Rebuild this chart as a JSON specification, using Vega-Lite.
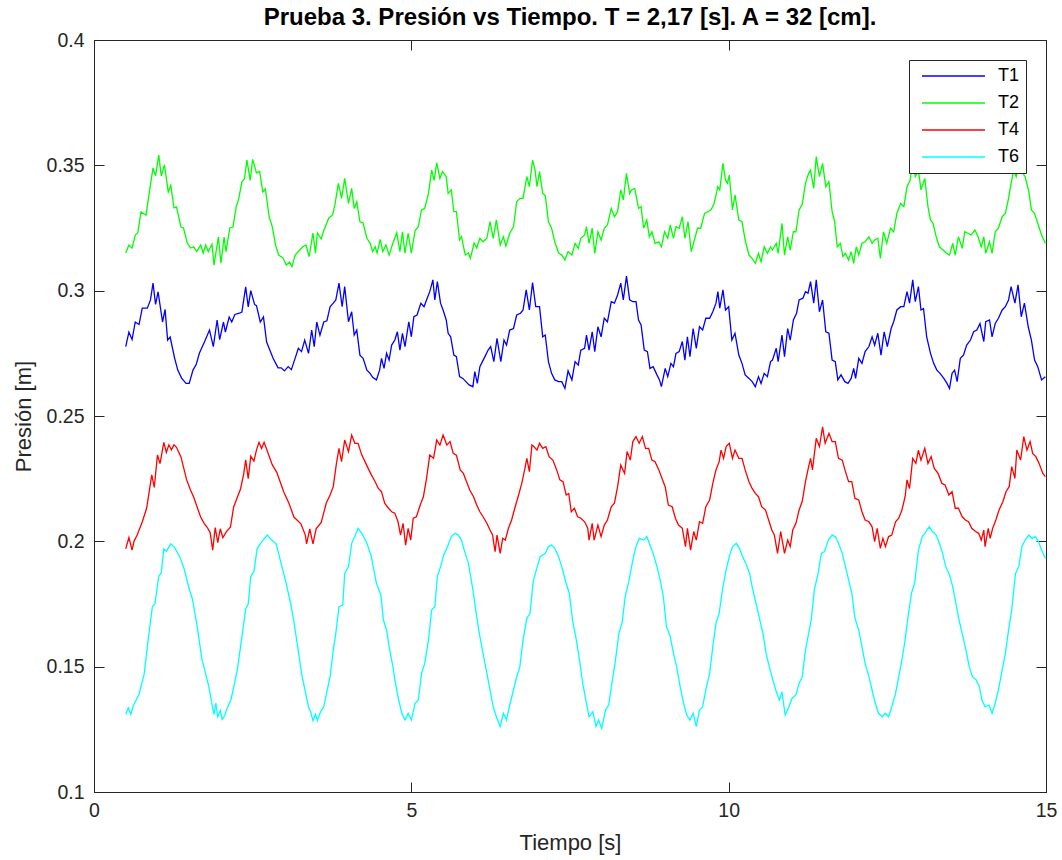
{
"$schema": "https://vega.github.io/schema/vega-lite/v6.json",
"width": 952, "height": 752,
"autosize": {"type": "none"},
"padding": {"left": 94, "top": 40, "right": 16, "bottom": 68},
"background": "white",
"config": {"view": {"stroke": "#262626", "strokeWidth": 1}, "font": "Liberation Sans"},
"title": {"text": "Prueba 3. Presión vs Tiempo. T = 2,17 [s]. A = 32 [cm].", "font": "Liberation Sans", "fontSize": 24, "fontWeight": "bold", "color": "black", "offset": 0, "anchor": "middle"},
"data": {"values": [
{"s":"T1","t":0.5,"p":0.2777},{"s":"T1","t":0.55,"p":0.2835},{"s":"T1","t":0.6,"p":0.2805},{"s":"T1","t":0.65,"p":0.2875},{"s":"T1","t":0.71,"p":0.2865},{"s":"T1","t":0.76,"p":0.293},{"s":"T1","t":0.84,"p":0.293},{"s":"T1","t":0.89,"p":0.2963},{"s":"T1","t":0.93,"p":0.303},{"s":"T1","t":0.97,"p":0.2945},{"s":"T1","t":1.01,"p":0.2995},{"s":"T1","t":1.08,"p":0.2875},{"s":"T1","t":1.12,"p":0.2925},{"s":"T1","t":1.16,"p":0.2803},{"s":"T1","t":1.2,"p":0.2815},{"s":"T1","t":1.27,"p":0.2731},{"s":"T1","t":1.32,"p":0.2683},{"s":"T1","t":1.38,"p":0.2651},{"s":"T1","t":1.45,"p":0.263},{"s":"T1","t":1.5,"p":0.263},{"s":"T1","t":1.56,"p":0.2683},{"s":"T1","t":1.61,"p":0.2705},{"s":"T1","t":1.66,"p":0.275},{"s":"T1","t":1.74,"p":0.2795},{"s":"T1","t":1.82,"p":0.2843},{"s":"T1","t":1.88,"p":0.2777},{"s":"T1","t":1.94,"p":0.2883},{"s":"T1","t":1.98,"p":0.2805},{"s":"T1","t":2.04,"p":0.2875},{"s":"T1","t":2.07,"p":0.2835},{"s":"T1","t":2.13,"p":0.2895},{"s":"T1","t":2.17,"p":0.2875},{"s":"T1","t":2.22,"p":0.2905},{"s":"T1","t":2.29,"p":0.291},{"s":"T1","t":2.33,"p":0.2915},{"s":"T1","t":2.39,"p":0.3015},{"s":"T1","t":2.43,"p":0.2935},{"s":"T1","t":2.47,"p":0.3},{"s":"T1","t":2.53,"p":0.2945},{"s":"T1","t":2.56,"p":0.294},{"s":"T1","t":2.62,"p":0.2875},{"s":"T1","t":2.67,"p":0.2895},{"s":"T1","t":2.72,"p":0.2795},{"s":"T1","t":2.77,"p":0.2763},{"s":"T1","t":2.82,"p":0.2731},{"s":"T1","t":2.9,"p":0.2692},{"s":"T1","t":2.95,"p":0.2692},{"s":"T1","t":3.0,"p":0.268},{"s":"T1","t":3.06,"p":0.2697},{"s":"T1","t":3.11,"p":0.2685},{"s":"T1","t":3.17,"p":0.2731},{"s":"T1","t":3.22,"p":0.277},{"s":"T1","t":3.27,"p":0.2757},{"s":"T1","t":3.32,"p":0.2803},{"s":"T1","t":3.38,"p":0.275},{"s":"T1","t":3.43,"p":0.2843},{"s":"T1","t":3.47,"p":0.2777},{"s":"T1","t":3.51,"p":0.2875},{"s":"T1","t":3.56,"p":0.2822},{"s":"T1","t":3.62,"p":0.2875},{"s":"T1","t":3.67,"p":0.288},{"s":"T1","t":3.72,"p":0.2936},{"s":"T1","t":3.77,"p":0.295},{"s":"T1","t":3.81,"p":0.2963},{"s":"T1","t":3.86,"p":0.303},{"s":"T1","t":3.91,"p":0.2936},{"s":"T1","t":3.95,"p":0.3016},{"s":"T1","t":4.01,"p":0.2876},{"s":"T1","t":4.06,"p":0.2916},{"s":"T1","t":4.1,"p":0.2823},{"s":"T1","t":4.14,"p":0.2843},{"s":"T1","t":4.19,"p":0.2743},{"s":"T1","t":4.24,"p":0.273},{"s":"T1","t":4.3,"p":0.2683},{"s":"T1","t":4.35,"p":0.267},{"s":"T1","t":4.39,"p":0.2654},{"s":"T1","t":4.45,"p":0.2644},{"s":"T1","t":4.5,"p":0.2683},{"s":"T1","t":4.53,"p":0.273},{"s":"T1","t":4.57,"p":0.269},{"s":"T1","t":4.61,"p":0.275},{"s":"T1","t":4.65,"p":0.2723},{"s":"T1","t":4.69,"p":0.2783},{"s":"T1","t":4.74,"p":0.2803},{"s":"T1","t":4.78,"p":0.2836},{"s":"T1","t":4.82,"p":0.2763},{"s":"T1","t":4.86,"p":0.283},{"s":"T1","t":4.9,"p":0.2777},{"s":"T1","t":4.96,"p":0.2876},{"s":"T1","t":5.0,"p":0.2816},{"s":"T1","t":5.04,"p":0.2896},{"s":"T1","t":5.09,"p":0.2903},{"s":"T1","t":5.15,"p":0.295},{"s":"T1","t":5.2,"p":0.2936},{"s":"T1","t":5.25,"p":0.297},{"s":"T1","t":5.29,"p":0.2996},{"s":"T1","t":5.34,"p":0.3043},{"s":"T1","t":5.37,"p":0.2963},{"s":"T1","t":5.41,"p":0.3036},{"s":"T1","t":5.46,"p":0.295},{"s":"T1","t":5.5,"p":0.2923},{"s":"T1","t":5.55,"p":0.2883},{"s":"T1","t":5.58,"p":0.283},{"s":"T1","t":5.62,"p":0.2816},{"s":"T1","t":5.67,"p":0.2743},{"s":"T1","t":5.71,"p":0.2737},{"s":"T1","t":5.76,"p":0.2657},{"s":"T1","t":5.81,"p":0.265},{"s":"T1","t":5.86,"p":0.2637},{"s":"T1","t":5.91,"p":0.2624},{"s":"T1","t":5.97,"p":0.2617},{"s":"T1","t":6.0,"p":0.2677},{"s":"T1","t":6.04,"p":0.263},{"s":"T1","t":6.08,"p":0.2697},{"s":"T1","t":6.12,"p":0.2717},{"s":"T1","t":6.16,"p":0.2737},{"s":"T1","t":6.21,"p":0.2763},{"s":"T1","t":6.25,"p":0.2777},{"s":"T1","t":6.3,"p":0.2717},{"s":"T1","t":6.35,"p":0.281},{"s":"T1","t":6.41,"p":0.2717},{"s":"T1","t":6.46,"p":0.2803},{"s":"T1","t":6.5,"p":0.2783},{"s":"T1","t":6.55,"p":0.2843},{"s":"T1","t":6.61,"p":0.2849},{"s":"T1","t":6.66,"p":0.2903},{"s":"T1","t":6.72,"p":0.291},{"s":"T1","t":6.76,"p":0.2923},{"s":"T1","t":6.81,"p":0.3003},{"s":"T1","t":6.86,"p":0.2923},{"s":"T1","t":6.91,"p":0.3032},{"s":"T1","t":6.96,"p":0.2936},{"s":"T1","t":7.02,"p":0.2936},{"s":"T1","t":7.07,"p":0.2816},{"s":"T1","t":7.11,"p":0.2823},{"s":"T1","t":7.16,"p":0.2717},{"s":"T1","t":7.21,"p":0.267},{"s":"T1","t":7.26,"p":0.2644},{"s":"T1","t":7.32,"p":0.2637},{"s":"T1","t":7.37,"p":0.2637},{"s":"T1","t":7.42,"p":0.261},{"s":"T1","t":7.47,"p":0.268},{"s":"T1","t":7.53,"p":0.2644},{"s":"T1","t":7.58,"p":0.2717},{"s":"T1","t":7.63,"p":0.2703},{"s":"T1","t":7.67,"p":0.2763},{"s":"T1","t":7.73,"p":0.277},{"s":"T1","t":7.76,"p":0.2823},{"s":"T1","t":7.8,"p":0.2763},{"s":"T1","t":7.85,"p":0.2836},{"s":"T1","t":7.89,"p":0.2757},{"s":"T1","t":7.94,"p":0.2856},{"s":"T1","t":7.99,"p":0.2816},{"s":"T1","t":8.04,"p":0.289},{"s":"T1","t":8.09,"p":0.2876},{"s":"T1","t":8.15,"p":0.2956},{"s":"T1","t":8.2,"p":0.295},{"s":"T1","t":8.25,"p":0.2983},{"s":"T1","t":8.3,"p":0.303},{"s":"T1","t":8.34,"p":0.2963},{"s":"T1","t":8.39,"p":0.3058},{"s":"T1","t":8.44,"p":0.2963},{"s":"T1","t":8.49,"p":0.2956},{"s":"T1","t":8.54,"p":0.2956},{"s":"T1","t":8.58,"p":0.2883},{"s":"T1","t":8.62,"p":0.2863},{"s":"T1","t":8.67,"p":0.2763},{"s":"T1","t":8.72,"p":0.2757},{"s":"T1","t":8.76,"p":0.269},{"s":"T1","t":8.81,"p":0.2697},{"s":"T1","t":8.87,"p":0.2664},{"s":"T1","t":8.91,"p":0.2644},{"s":"T1","t":8.94,"p":0.2617},{"s":"T1","t":9.0,"p":0.269},{"s":"T1","t":9.04,"p":0.2657},{"s":"T1","t":9.09,"p":0.271},{"s":"T1","t":9.13,"p":0.2697},{"s":"T1","t":9.17,"p":0.275},{"s":"T1","t":9.22,"p":0.2757},{"s":"T1","t":9.27,"p":0.2797},{"s":"T1","t":9.31,"p":0.2723},{"s":"T1","t":9.35,"p":0.2816},{"s":"T1","t":9.39,"p":0.2737},{"s":"T1","t":9.44,"p":0.2849},{"s":"T1","t":9.49,"p":0.277},{"s":"T1","t":9.54,"p":0.2856},{"s":"T1","t":9.59,"p":0.2843},{"s":"T1","t":9.64,"p":0.289},{"s":"T1","t":9.7,"p":0.289},{"s":"T1","t":9.75,"p":0.2916},{"s":"T1","t":9.8,"p":0.295},{"s":"T1","t":9.83,"p":0.2996},{"s":"T1","t":9.86,"p":0.293},{"s":"T1","t":9.91,"p":0.3003},{"s":"T1","t":9.95,"p":0.2923},{"s":"T1","t":10.0,"p":0.2936},{"s":"T1","t":10.05,"p":0.2803},{"s":"T1","t":10.1,"p":0.283},{"s":"T1","t":10.16,"p":0.2743},{"s":"T1","t":10.21,"p":0.271},{"s":"T1","t":10.26,"p":0.2664},{"s":"T1","t":10.32,"p":0.265},{"s":"T1","t":10.37,"p":0.2637},{"s":"T1","t":10.42,"p":0.2617},{"s":"T1","t":10.47,"p":0.2657},{"s":"T1","t":10.51,"p":0.263},{"s":"T1","t":10.56,"p":0.267},{"s":"T1","t":10.61,"p":0.2657},{"s":"T1","t":10.66,"p":0.2717},{"s":"T1","t":10.69,"p":0.2723},{"s":"T1","t":10.75,"p":0.277},{"s":"T1","t":10.78,"p":0.2717},{"s":"T1","t":10.84,"p":0.2823},{"s":"T1","t":10.88,"p":0.2737},{"s":"T1","t":10.93,"p":0.2849},{"s":"T1","t":10.97,"p":0.2803},{"s":"T1","t":11.02,"p":0.2883},{"s":"T1","t":11.07,"p":0.291},{"s":"T1","t":11.11,"p":0.2963},{"s":"T1","t":11.17,"p":0.297},{"s":"T1","t":11.21,"p":0.2996},{"s":"T1","t":11.25,"p":0.299},{"s":"T1","t":11.29,"p":0.3036},{"s":"T1","t":11.34,"p":0.295},{"s":"T1","t":11.38,"p":0.3043},{"s":"T1","t":11.43,"p":0.2916},{"s":"T1","t":11.48,"p":0.2963},{"s":"T1","t":11.53,"p":0.2836},{"s":"T1","t":11.58,"p":0.283},{"s":"T1","t":11.63,"p":0.2723},{"s":"T1","t":11.68,"p":0.2717},{"s":"T1","t":11.72,"p":0.2644},{"s":"T1","t":11.77,"p":0.2664},{"s":"T1","t":11.83,"p":0.2637},{"s":"T1","t":11.88,"p":0.263},{"s":"T1","t":11.93,"p":0.265},{"s":"T1","t":11.97,"p":0.269},{"s":"T1","t":12.0,"p":0.265},{"s":"T1","t":12.05,"p":0.273},{"s":"T1","t":12.1,"p":0.271},{"s":"T1","t":12.15,"p":0.2757},{"s":"T1","t":12.21,"p":0.2777},{"s":"T1","t":12.26,"p":0.2816},{"s":"T1","t":12.3,"p":0.2783},{"s":"T1","t":12.35,"p":0.283},{"s":"T1","t":12.4,"p":0.2743},{"s":"T1","t":12.45,"p":0.2836},{"s":"T1","t":12.5,"p":0.2777},{"s":"T1","t":12.56,"p":0.2849},{"s":"T1","t":12.6,"p":0.2876},{"s":"T1","t":12.65,"p":0.2923},{"s":"T1","t":12.71,"p":0.2936},{"s":"T1","t":12.76,"p":0.2936},{"s":"T1","t":12.81,"p":0.2996},{"s":"T1","t":12.85,"p":0.295},{"s":"T1","t":12.9,"p":0.3043},{"s":"T1","t":12.94,"p":0.2956},{"s":"T1","t":12.99,"p":0.3016},{"s":"T1","t":13.03,"p":0.2923},{"s":"T1","t":13.07,"p":0.2929},{"s":"T1","t":13.12,"p":0.2816},{"s":"T1","t":13.18,"p":0.275},{"s":"T1","t":13.23,"p":0.271},{"s":"T1","t":13.28,"p":0.2683},{"s":"T1","t":13.33,"p":0.267},{"s":"T1","t":13.39,"p":0.265},{"s":"T1","t":13.44,"p":0.263},{"s":"T1","t":13.48,"p":0.261},{"s":"T1","t":13.52,"p":0.267},{"s":"T1","t":13.56,"p":0.2683},{"s":"T1","t":13.6,"p":0.2637},{"s":"T1","t":13.65,"p":0.273},{"s":"T1","t":13.7,"p":0.2743},{"s":"T1","t":13.75,"p":0.2783},{"s":"T1","t":13.81,"p":0.2803},{"s":"T1","t":13.86,"p":0.2836},{"s":"T1","t":13.91,"p":0.2843},{"s":"T1","t":13.96,"p":0.2869},{"s":"T1","t":14.02,"p":0.2797},{"s":"T1","t":14.05,"p":0.2876},{"s":"T1","t":14.11,"p":0.2883},{"s":"T1","t":14.15,"p":0.2816},{"s":"T1","t":14.2,"p":0.2869},{"s":"T1","t":14.25,"p":0.289},{"s":"T1","t":14.31,"p":0.2923},{"s":"T1","t":14.36,"p":0.2936},{"s":"T1","t":14.41,"p":0.2963},{"s":"T1","t":14.45,"p":0.3016},{"s":"T1","t":14.51,"p":0.295},{"s":"T1","t":14.56,"p":0.3023},{"s":"T1","t":14.61,"p":0.2896},{"s":"T1","t":14.66,"p":0.295},{"s":"T1","t":14.72,"p":0.2856},{"s":"T1","t":14.77,"p":0.2803},{"s":"T1","t":14.82,"p":0.2723},{"s":"T1","t":14.87,"p":0.2697},{"s":"T1","t":14.93,"p":0.2644},{"s":"T1","t":14.99,"p":0.2657},
{"s":"T2","t":0.5,"p":0.315},{"s":"T2","t":0.55,"p":0.3182},{"s":"T2","t":0.6,"p":0.317},{"s":"T2","t":0.65,"p":0.3222},{"s":"T2","t":0.69,"p":0.323},{"s":"T2","t":0.74,"p":0.3314},{"s":"T2","t":0.82,"p":0.3301},{"s":"T2","t":0.87,"p":0.339},{"s":"T2","t":0.93,"p":0.349},{"s":"T2","t":0.97,"p":0.3458},{"s":"T2","t":1.02,"p":0.3541},{"s":"T2","t":1.06,"p":0.3458},{"s":"T2","t":1.11,"p":0.3502},{"s":"T2","t":1.17,"p":0.3394},{"s":"T2","t":1.21,"p":0.342},{"s":"T2","t":1.26,"p":0.333},{"s":"T2","t":1.3,"p":0.3334},{"s":"T2","t":1.37,"p":0.3254},{"s":"T2","t":1.41,"p":0.325},{"s":"T2","t":1.47,"p":0.319},{"s":"T2","t":1.52,"p":0.317},{"s":"T2","t":1.57,"p":0.3175},{"s":"T2","t":1.62,"p":0.3156},{"s":"T2","t":1.68,"p":0.3182},{"s":"T2","t":1.72,"p":0.315},{"s":"T2","t":1.76,"p":0.3182},{"s":"T2","t":1.8,"p":0.3156},{"s":"T2","t":1.86,"p":0.3185},{"s":"T2","t":1.89,"p":0.3102},{"s":"T2","t":1.96,"p":0.3214},{"s":"T2","t":2.0,"p":0.311},{"s":"T2","t":2.05,"p":0.3214},{"s":"T2","t":2.08,"p":0.3156},{"s":"T2","t":2.14,"p":0.325},{"s":"T2","t":2.19,"p":0.3254},{"s":"T2","t":2.24,"p":0.3334},{"s":"T2","t":2.28,"p":0.3366},{"s":"T2","t":2.33,"p":0.3434},{"s":"T2","t":2.37,"p":0.3446},{"s":"T2","t":2.41,"p":0.3521},{"s":"T2","t":2.46,"p":0.344},{"s":"T2","t":2.5,"p":0.3524},{"s":"T2","t":2.56,"p":0.347},{"s":"T2","t":2.61,"p":0.3476},{"s":"T2","t":2.66,"p":0.3394},{"s":"T2","t":2.7,"p":0.3406},{"s":"T2","t":2.76,"p":0.3294},{"s":"T2","t":2.81,"p":0.3254},{"s":"T2","t":2.86,"p":0.3182},{"s":"T2","t":2.91,"p":0.3142},{"s":"T2","t":2.98,"p":0.313},{"s":"T2","t":3.03,"p":0.3102},{"s":"T2","t":3.08,"p":0.3114},{"s":"T2","t":3.12,"p":0.3096},{"s":"T2","t":3.17,"p":0.3142},{"s":"T2","t":3.24,"p":0.3162},{"s":"T2","t":3.29,"p":0.3175},{"s":"T2","t":3.34,"p":0.3182},{"s":"T2","t":3.39,"p":0.3136},{"s":"T2","t":3.45,"p":0.323},{"s":"T2","t":3.49,"p":0.315},{"s":"T2","t":3.52,"p":0.323},{"s":"T2","t":3.58,"p":0.3206},{"s":"T2","t":3.62,"p":0.324},{"s":"T2","t":3.7,"p":0.329},{"s":"T2","t":3.76,"p":0.3302},{"s":"T2","t":3.8,"p":0.3348},{"s":"T2","t":3.85,"p":0.3428},{"s":"T2","t":3.9,"p":0.3368},{"s":"T2","t":3.95,"p":0.3448},{"s":"T2","t":4.01,"p":0.3348},{"s":"T2","t":4.06,"p":0.3408},{"s":"T2","t":4.1,"p":0.3328},{"s":"T2","t":4.14,"p":0.3355},{"s":"T2","t":4.19,"p":0.3275},{"s":"T2","t":4.24,"p":0.327},{"s":"T2","t":4.3,"p":0.3209},{"s":"T2","t":4.35,"p":0.319},{"s":"T2","t":4.39,"p":0.3156},{"s":"T2","t":4.43,"p":0.3175},{"s":"T2","t":4.46,"p":0.315},{"s":"T2","t":4.51,"p":0.3205},{"s":"T2","t":4.55,"p":0.3156},{"s":"T2","t":4.6,"p":0.3182},{"s":"T2","t":4.65,"p":0.3142},{"s":"T2","t":4.71,"p":0.319},{"s":"T2","t":4.77,"p":0.3231},{"s":"T2","t":4.82,"p":0.3156},{"s":"T2","t":4.86,"p":0.3235},{"s":"T2","t":4.9,"p":0.315},{"s":"T2","t":4.95,"p":0.3229},{"s":"T2","t":5.0,"p":0.315},{"s":"T2","t":5.06,"p":0.324},{"s":"T2","t":5.11,"p":0.3255},{"s":"T2","t":5.16,"p":0.3322},{"s":"T2","t":5.21,"p":0.3328},{"s":"T2","t":5.27,"p":0.3388},{"s":"T2","t":5.32,"p":0.3481},{"s":"T2","t":5.36,"p":0.344},{"s":"T2","t":5.4,"p":0.351},{"s":"T2","t":5.45,"p":0.3448},{"s":"T2","t":5.49,"p":0.3475},{"s":"T2","t":5.55,"p":0.3455},{"s":"T2","t":5.58,"p":0.3388},{"s":"T2","t":5.63,"p":0.3402},{"s":"T2","t":5.67,"p":0.3315},{"s":"T2","t":5.71,"p":0.3315},{"s":"T2","t":5.76,"p":0.3202},{"s":"T2","t":5.79,"p":0.3215},{"s":"T2","t":5.85,"p":0.3142},{"s":"T2","t":5.9,"p":0.315},{"s":"T2","t":5.93,"p":0.3129},{"s":"T2","t":5.99,"p":0.319},{"s":"T2","t":6.03,"p":0.317},{"s":"T2","t":6.08,"p":0.3209},{"s":"T2","t":6.13,"p":0.3195},{"s":"T2","t":6.19,"p":0.3209},{"s":"T2","t":6.24,"p":0.3275},{"s":"T2","t":6.29,"p":0.3209},{"s":"T2","t":6.34,"p":0.3282},{"s":"T2","t":6.4,"p":0.3182},{"s":"T2","t":6.45,"p":0.3215},{"s":"T2","t":6.49,"p":0.3178},{"s":"T2","t":6.55,"p":0.3229},{"s":"T2","t":6.61,"p":0.3255},{"s":"T2","t":6.66,"p":0.3355},{"s":"T2","t":6.71,"p":0.3368},{"s":"T2","t":6.76,"p":0.3368},{"s":"T2","t":6.82,"p":0.3455},{"s":"T2","t":6.86,"p":0.3415},{"s":"T2","t":6.91,"p":0.3521},{"s":"T2","t":6.95,"p":0.3481},{"s":"T2","t":6.98,"p":0.3415},{"s":"T2","t":7.02,"p":0.3475},{"s":"T2","t":7.07,"p":0.3388},{"s":"T2","t":7.11,"p":0.338},{"s":"T2","t":7.16,"p":0.3275},{"s":"T2","t":7.21,"p":0.3249},{"s":"T2","t":7.26,"p":0.3195},{"s":"T2","t":7.32,"p":0.315},{"s":"T2","t":7.37,"p":0.3142},{"s":"T2","t":7.42,"p":0.3122},{"s":"T2","t":7.47,"p":0.3156},{"s":"T2","t":7.53,"p":0.3142},{"s":"T2","t":7.58,"p":0.3189},{"s":"T2","t":7.63,"p":0.3169},{"s":"T2","t":7.67,"p":0.3209},{"s":"T2","t":7.73,"p":0.3222},{"s":"T2","t":7.76,"p":0.3255},{"s":"T2","t":7.8,"p":0.3189},{"s":"T2","t":7.85,"p":0.3249},{"s":"T2","t":7.89,"p":0.3149},{"s":"T2","t":7.94,"p":0.3235},{"s":"T2","t":7.99,"p":0.3202},{"s":"T2","t":8.04,"p":0.3249},{"s":"T2","t":8.09,"p":0.3262},{"s":"T2","t":8.15,"p":0.3328},{"s":"T2","t":8.2,"p":0.3295},{"s":"T2","t":8.25,"p":0.3315},{"s":"T2","t":8.3,"p":0.3402},{"s":"T2","t":8.34,"p":0.3362},{"s":"T2","t":8.39,"p":0.3468},{"s":"T2","t":8.44,"p":0.3388},{"s":"T2","t":8.47,"p":0.3402},{"s":"T2","t":8.52,"p":0.3408},{"s":"T2","t":8.58,"p":0.3328},{"s":"T2","t":8.62,"p":0.3335},{"s":"T2","t":8.66,"p":0.3249},{"s":"T2","t":8.71,"p":0.3282},{"s":"T2","t":8.75,"p":0.3215},{"s":"T2","t":8.79,"p":0.3235},{"s":"T2","t":8.84,"p":0.3189},{"s":"T2","t":8.9,"p":0.3195},{"s":"T2","t":8.94,"p":0.3175},{"s":"T2","t":8.99,"p":0.3235},{"s":"T2","t":9.04,"p":0.3209},{"s":"T2","t":9.08,"p":0.3262},{"s":"T2","t":9.13,"p":0.3209},{"s":"T2","t":9.17,"p":0.3255},{"s":"T2","t":9.22,"p":0.3249},{"s":"T2","t":9.27,"p":0.3295},{"s":"T2","t":9.31,"p":0.3209},{"s":"T2","t":9.36,"p":0.3275},{"s":"T2","t":9.41,"p":0.3156},{"s":"T2","t":9.46,"p":0.3202},{"s":"T2","t":9.51,"p":0.3249},{"s":"T2","t":9.56,"p":0.3249},{"s":"T2","t":9.62,"p":0.3308},{"s":"T2","t":9.67,"p":0.3315},{"s":"T2","t":9.72,"p":0.3322},{"s":"T2","t":9.77,"p":0.3348},{"s":"T2","t":9.83,"p":0.3415},{"s":"T2","t":9.86,"p":0.3402},{"s":"T2","t":9.91,"p":0.3508},{"s":"T2","t":9.95,"p":0.3441},{"s":"T2","t":9.98,"p":0.3428},{"s":"T2","t":10.01,"p":0.3461},{"s":"T2","t":10.06,"p":0.3322},{"s":"T2","t":10.1,"p":0.3382},{"s":"T2","t":10.16,"p":0.3282},{"s":"T2","t":10.21,"p":0.3275},{"s":"T2","t":10.26,"p":0.3202},{"s":"T2","t":10.32,"p":0.3142},{"s":"T2","t":10.37,"p":0.3129},{"s":"T2","t":10.42,"p":0.3109},{"s":"T2","t":10.47,"p":0.3149},{"s":"T2","t":10.51,"p":0.3116},{"s":"T2","t":10.56,"p":0.3175},{"s":"T2","t":10.61,"p":0.3149},{"s":"T2","t":10.66,"p":0.3175},{"s":"T2","t":10.69,"p":0.3162},{"s":"T2","t":10.75,"p":0.3189},{"s":"T2","t":10.78,"p":0.3149},{"s":"T2","t":10.84,"p":0.3269},{"s":"T2","t":10.88,"p":0.3142},{"s":"T2","t":10.93,"p":0.3215},{"s":"T2","t":10.97,"p":0.3162},{"s":"T2","t":11.02,"p":0.3235},{"s":"T2","t":11.06,"p":0.3235},{"s":"T2","t":11.11,"p":0.3322},{"s":"T2","t":11.16,"p":0.3345},{"s":"T2","t":11.21,"p":0.3428},{"s":"T2","t":11.26,"p":0.3468},{"s":"T2","t":11.29,"p":0.3481},{"s":"T2","t":11.34,"p":0.3408},{"s":"T2","t":11.38,"p":0.3535},{"s":"T2","t":11.43,"p":0.3455},{"s":"T2","t":11.48,"p":0.3508},{"s":"T2","t":11.53,"p":0.3415},{"s":"T2","t":11.58,"p":0.3435},{"s":"T2","t":11.63,"p":0.3315},{"s":"T2","t":11.67,"p":0.3275},{"s":"T2","t":11.71,"p":0.3175},{"s":"T2","t":11.76,"p":0.3189},{"s":"T2","t":11.8,"p":0.3136},{"s":"T2","t":11.84,"p":0.3149},{"s":"T2","t":11.89,"p":0.3122},{"s":"T2","t":11.93,"p":0.3156},{"s":"T2","t":11.97,"p":0.3109},{"s":"T2","t":12.01,"p":0.3175},{"s":"T2","t":12.05,"p":0.3142},{"s":"T2","t":12.1,"p":0.3189},{"s":"T2","t":12.15,"p":0.3195},{"s":"T2","t":12.21,"p":0.3215},{"s":"T2","t":12.26,"p":0.3189},{"s":"T2","t":12.3,"p":0.3202},{"s":"T2","t":12.35,"p":0.3209},{"s":"T2","t":12.39,"p":0.3129},{"s":"T2","t":12.44,"p":0.3235},{"s":"T2","t":12.49,"p":0.3189},{"s":"T2","t":12.55,"p":0.3249},{"s":"T2","t":12.6,"p":0.3235},{"s":"T2","t":12.65,"p":0.3308},{"s":"T2","t":12.71,"p":0.3348},{"s":"T2","t":12.76,"p":0.3335},{"s":"T2","t":12.81,"p":0.3415},{"s":"T2","t":12.86,"p":0.3441},{"s":"T2","t":12.9,"p":0.3521},{"s":"T2","t":12.94,"p":0.3455},{"s":"T2","t":12.99,"p":0.3481},{"s":"T2","t":13.03,"p":0.3402},{"s":"T2","t":13.09,"p":0.3448},{"s":"T2","t":13.14,"p":0.3335},{"s":"T2","t":13.18,"p":0.3282},{"s":"T2","t":13.22,"p":0.3269},{"s":"T2","t":13.27,"p":0.3215},{"s":"T2","t":13.32,"p":0.3175},{"s":"T2","t":13.38,"p":0.3162},{"s":"T2","t":13.43,"p":0.3149},{"s":"T2","t":13.48,"p":0.3142},{"s":"T2","t":13.53,"p":0.3189},{"s":"T2","t":13.57,"p":0.3142},{"s":"T2","t":13.62,"p":0.3215},{"s":"T2","t":13.68,"p":0.3169},{"s":"T2","t":13.72,"p":0.3235},{"s":"T2","t":13.77,"p":0.3229},{"s":"T2","t":13.82,"p":0.3222},{"s":"T2","t":13.88,"p":0.3242},{"s":"T2","t":13.93,"p":0.3215},{"s":"T2","t":13.98,"p":0.3175},{"s":"T2","t":14.02,"p":0.3215},{"s":"T2","t":14.05,"p":0.3149},{"s":"T2","t":14.11,"p":0.3195},{"s":"T2","t":14.15,"p":0.3149},{"s":"T2","t":14.2,"p":0.3235},{"s":"T2","t":14.25,"p":0.3249},{"s":"T2","t":14.31,"p":0.3295},{"s":"T2","t":14.36,"p":0.3308},{"s":"T2","t":14.41,"p":0.3368},{"s":"T2","t":14.45,"p":0.3428},{"s":"T2","t":14.49,"p":0.3481},{"s":"T2","t":14.53,"p":0.3455},{"s":"T2","t":14.57,"p":0.3495},{"s":"T2","t":14.62,"p":0.3475},{"s":"T2","t":14.67,"p":0.3455},{"s":"T2","t":14.73,"p":0.3395},{"s":"T2","t":14.77,"p":0.3322},{"s":"T2","t":14.82,"p":0.3308},{"s":"T2","t":14.87,"p":0.3269},{"s":"T2","t":14.93,"p":0.3222},{"s":"T2","t":14.99,"p":0.3189},
{"s":"T4","t":0.5,"p":0.197},{"s":"T4","t":0.55,"p":0.2015},{"s":"T4","t":0.6,"p":0.1965},{"s":"T4","t":0.63,"p":0.2},{"s":"T4","t":0.68,"p":0.2025},{"s":"T4","t":0.76,"p":0.2077},{"s":"T4","t":0.83,"p":0.2133},{"s":"T4","t":0.91,"p":0.2265},{"s":"T4","t":0.95,"p":0.2215},{"s":"T4","t":1.0,"p":0.2345},{"s":"T4","t":1.04,"p":0.231},{"s":"T4","t":1.1,"p":0.2395},{"s":"T4","t":1.14,"p":0.2355},{"s":"T4","t":1.18,"p":0.2385},{"s":"T4","t":1.22,"p":0.2365},{"s":"T4","t":1.26,"p":0.2385},{"s":"T4","t":1.3,"p":0.2375},{"s":"T4","t":1.37,"p":0.2337},{"s":"T4","t":1.46,"p":0.2245},{"s":"T4","t":1.52,"p":0.2205},{"s":"T4","t":1.57,"p":0.2177},{"s":"T4","t":1.68,"p":0.2097},{"s":"T4","t":1.74,"p":0.207},{"s":"T4","t":1.78,"p":0.2057},{"s":"T4","t":1.83,"p":0.2035},{"s":"T4","t":1.87,"p":0.1965},{"s":"T4","t":1.91,"p":0.2055},{"s":"T4","t":1.95,"p":0.1995},{"s":"T4","t":1.99,"p":0.205},{"s":"T4","t":2.03,"p":0.2015},{"s":"T4","t":2.09,"p":0.204},{"s":"T4","t":2.15,"p":0.2057},{"s":"T4","t":2.2,"p":0.2137},{"s":"T4","t":2.31,"p":0.221},{"s":"T4","t":2.36,"p":0.227},{"s":"T4","t":2.39,"p":0.2325},{"s":"T4","t":2.43,"p":0.225},{"s":"T4","t":2.47,"p":0.234},{"s":"T4","t":2.52,"p":0.232},{"s":"T4","t":2.56,"p":0.2365},{"s":"T4","t":2.6,"p":0.2395},{"s":"T4","t":2.64,"p":0.237},{"s":"T4","t":2.68,"p":0.2395},{"s":"T4","t":2.73,"p":0.236},{"s":"T4","t":2.81,"p":0.2305},{"s":"T4","t":2.88,"p":0.2275},{"s":"T4","t":2.99,"p":0.2197},{"s":"T4","t":3.07,"p":0.2153},{"s":"T4","t":3.15,"p":0.2097},{"s":"T4","t":3.26,"p":0.207},{"s":"T4","t":3.33,"p":0.2025},{"s":"T4","t":3.35,"p":0.199},{"s":"T4","t":3.4,"p":0.205},{"s":"T4","t":3.45,"p":0.199},{"s":"T4","t":3.5,"p":0.205},{"s":"T4","t":3.58,"p":0.2075},{"s":"T4","t":3.66,"p":0.2153},{"s":"T4","t":3.72,"p":0.2185},{"s":"T4","t":3.77,"p":0.2218},{"s":"T4","t":3.82,"p":0.2311},{"s":"T4","t":3.86,"p":0.2371},{"s":"T4","t":3.9,"p":0.2318},{"s":"T4","t":3.95,"p":0.2404},{"s":"T4","t":4.01,"p":0.2358},{"s":"T4","t":4.06,"p":0.2424},{"s":"T4","t":4.11,"p":0.2391},{"s":"T4","t":4.16,"p":0.2391},{"s":"T4","t":4.22,"p":0.2344},{"s":"T4","t":4.27,"p":0.2318},{"s":"T4","t":4.32,"p":0.2291},{"s":"T4","t":4.37,"p":0.2265},{"s":"T4","t":4.43,"p":0.2238},{"s":"T4","t":4.48,"p":0.2211},{"s":"T4","t":4.53,"p":0.2198},{"s":"T4","t":4.58,"p":0.2152},{"s":"T4","t":4.64,"p":0.2132},{"s":"T4","t":4.69,"p":0.2118},{"s":"T4","t":4.74,"p":0.2112},{"s":"T4","t":4.79,"p":0.2078},{"s":"T4","t":4.83,"p":0.2025},{"s":"T4","t":4.87,"p":0.2072},{"s":"T4","t":4.91,"p":0.1985},{"s":"T4","t":4.95,"p":0.2052},{"s":"T4","t":4.99,"p":0.2005},{"s":"T4","t":5.03,"p":0.2092},{"s":"T4","t":5.08,"p":0.2098},{"s":"T4","t":5.14,"p":0.2145},{"s":"T4","t":5.19,"p":0.2178},{"s":"T4","t":5.24,"p":0.2251},{"s":"T4","t":5.29,"p":0.2344},{"s":"T4","t":5.35,"p":0.2331},{"s":"T4","t":5.4,"p":0.2404},{"s":"T4","t":5.45,"p":0.2384},{"s":"T4","t":5.5,"p":0.2424},{"s":"T4","t":5.56,"p":0.2384},{"s":"T4","t":5.61,"p":0.2398},{"s":"T4","t":5.66,"p":0.2351},{"s":"T4","t":5.71,"p":0.2344},{"s":"T4","t":5.77,"p":0.2285},{"s":"T4","t":5.82,"p":0.2271},{"s":"T4","t":5.87,"p":0.2238},{"s":"T4","t":5.92,"p":0.2205},{"s":"T4","t":5.98,"p":0.2178},{"s":"T4","t":6.03,"p":0.2145},{"s":"T4","t":6.08,"p":0.2118},{"s":"T4","t":6.13,"p":0.2098},{"s":"T4","t":6.19,"p":0.2072},{"s":"T4","t":6.24,"p":0.2045},{"s":"T4","t":6.28,"p":0.2025},{"s":"T4","t":6.32,"p":0.1959},{"s":"T4","t":6.35,"p":0.2025},{"s":"T4","t":6.4,"p":0.1952},{"s":"T4","t":6.44,"p":0.2012},{"s":"T4","t":6.48,"p":0.2005},{"s":"T4","t":6.53,"p":0.2052},{"s":"T4","t":6.58,"p":0.2085},{"s":"T4","t":6.63,"p":0.2132},{"s":"T4","t":6.69,"p":0.2185},{"s":"T4","t":6.74,"p":0.2231},{"s":"T4","t":6.79,"p":0.2291},{"s":"T4","t":6.82,"p":0.2331},{"s":"T4","t":6.86,"p":0.2278},{"s":"T4","t":6.9,"p":0.2384},{"s":"T4","t":6.93,"p":0.2378},{"s":"T4","t":6.98,"p":0.2364},{"s":"T4","t":7.02,"p":0.2391},{"s":"T4","t":7.07,"p":0.2371},{"s":"T4","t":7.12,"p":0.2378},{"s":"T4","t":7.17,"p":0.2338},{"s":"T4","t":7.23,"p":0.2324},{"s":"T4","t":7.29,"p":0.2285},{"s":"T4","t":7.34,"p":0.2245},{"s":"T4","t":7.39,"p":0.2238},{"s":"T4","t":7.44,"p":0.2185},{"s":"T4","t":7.48,"p":0.2191},{"s":"T4","t":7.52,"p":0.2118},{"s":"T4","t":7.57,"p":0.2132},{"s":"T4","t":7.62,"p":0.2098},{"s":"T4","t":7.67,"p":0.2092},{"s":"T4","t":7.73,"p":0.2078},{"s":"T4","t":7.78,"p":0.2052},{"s":"T4","t":7.8,"p":0.2005},{"s":"T4","t":7.85,"p":0.2072},{"s":"T4","t":7.88,"p":0.2005},{"s":"T4","t":7.94,"p":0.2065},{"s":"T4","t":7.99,"p":0.2019},{"s":"T4","t":8.04,"p":0.2065},{"s":"T4","t":8.09,"p":0.2085},{"s":"T4","t":8.15,"p":0.2138},{"s":"T4","t":8.2,"p":0.2152},{"s":"T4","t":8.25,"p":0.2218},{"s":"T4","t":8.3,"p":0.2304},{"s":"T4","t":8.36,"p":0.2271},{"s":"T4","t":8.4,"p":0.2358},{"s":"T4","t":8.45,"p":0.2324},{"s":"T4","t":8.49,"p":0.2398},{"s":"T4","t":8.54,"p":0.2418},{"s":"T4","t":8.59,"p":0.2391},{"s":"T4","t":8.64,"p":0.2418},{"s":"T4","t":8.69,"p":0.2371},{"s":"T4","t":8.74,"p":0.2371},{"s":"T4","t":8.79,"p":0.2324},{"s":"T4","t":8.84,"p":0.2318},{"s":"T4","t":8.9,"p":0.2285},{"s":"T4","t":8.95,"p":0.2251},{"s":"T4","t":9.0,"p":0.2218},{"s":"T4","t":9.05,"p":0.2145},{"s":"T4","t":9.11,"p":0.2138},{"s":"T4","t":9.16,"p":0.2092},{"s":"T4","t":9.21,"p":0.2065},{"s":"T4","t":9.27,"p":0.2052},{"s":"T4","t":9.32,"p":0.1979},{"s":"T4","t":9.35,"p":0.2052},{"s":"T4","t":9.4,"p":0.1965},{"s":"T4","t":9.45,"p":0.2039},{"s":"T4","t":9.49,"p":0.2005},{"s":"T4","t":9.54,"p":0.2078},{"s":"T4","t":9.59,"p":0.2072},{"s":"T4","t":9.64,"p":0.2138},{"s":"T4","t":9.7,"p":0.2165},{"s":"T4","t":9.75,"p":0.2231},{"s":"T4","t":9.8,"p":0.2285},{"s":"T4","t":9.85,"p":0.2318},{"s":"T4","t":9.88,"p":0.2364},{"s":"T4","t":9.92,"p":0.2331},{"s":"T4","t":9.96,"p":0.2378},{"s":"T4","t":10.01,"p":0.2391},{"s":"T4","t":10.06,"p":0.2331},{"s":"T4","t":10.1,"p":0.2364},{"s":"T4","t":10.16,"p":0.2331},{"s":"T4","t":10.21,"p":0.2331},{"s":"T4","t":10.26,"p":0.2285},{"s":"T4","t":10.32,"p":0.2238},{"s":"T4","t":10.37,"p":0.2211},{"s":"T4","t":10.42,"p":0.2191},{"s":"T4","t":10.47,"p":0.2178},{"s":"T4","t":10.52,"p":0.2138},{"s":"T4","t":10.58,"p":0.2125},{"s":"T4","t":10.63,"p":0.2085},{"s":"T4","t":10.68,"p":0.2045},{"s":"T4","t":10.72,"p":0.2025},{"s":"T4","t":10.77,"p":0.1952},{"s":"T4","t":10.82,"p":0.2039},{"s":"T4","t":10.88,"p":0.1952},{"s":"T4","t":10.93,"p":0.2005},{"s":"T4","t":10.97,"p":0.1979},{"s":"T4","t":11.01,"p":0.2045},{"s":"T4","t":11.06,"p":0.2072},{"s":"T4","t":11.11,"p":0.2125},{"s":"T4","t":11.16,"p":0.216},{"s":"T4","t":11.21,"p":0.2238},{"s":"T4","t":11.26,"p":0.2298},{"s":"T4","t":11.29,"p":0.2331},{"s":"T4","t":11.32,"p":0.2285},{"s":"T4","t":11.38,"p":0.2411},{"s":"T4","t":11.43,"p":0.2378},{"s":"T4","t":11.48,"p":0.2457},{"s":"T4","t":11.52,"p":0.2391},{"s":"T4","t":11.58,"p":0.2431},{"s":"T4","t":11.63,"p":0.2398},{"s":"T4","t":11.68,"p":0.2398},{"s":"T4","t":11.73,"p":0.2331},{"s":"T4","t":11.79,"p":0.2324},{"s":"T4","t":11.84,"p":0.2278},{"s":"T4","t":11.89,"p":0.2238},{"s":"T4","t":11.94,"p":0.2238},{"s":"T4","t":11.99,"p":0.2171},{"s":"T4","t":12.05,"p":0.2165},{"s":"T4","t":12.1,"p":0.2118},{"s":"T4","t":12.15,"p":0.2085},{"s":"T4","t":12.21,"p":0.2078},{"s":"T4","t":12.26,"p":0.2058},{"s":"T4","t":12.3,"p":0.1999},{"s":"T4","t":12.34,"p":0.2052},{"s":"T4","t":12.39,"p":0.1972},{"s":"T4","t":12.43,"p":0.2012},{"s":"T4","t":12.47,"p":0.1979},{"s":"T4","t":12.52,"p":0.2019},{"s":"T4","t":12.57,"p":0.2025},{"s":"T4","t":12.63,"p":0.2078},{"s":"T4","t":12.68,"p":0.2092},{"s":"T4","t":12.73,"p":0.2125},{"s":"T4","t":12.78,"p":0.2178},{"s":"T4","t":12.81,"p":0.2245},{"s":"T4","t":12.85,"p":0.2211},{"s":"T4","t":12.9,"p":0.2331},{"s":"T4","t":12.95,"p":0.2311},{"s":"T4","t":12.99,"p":0.2364},{"s":"T4","t":13.03,"p":0.2324},{"s":"T4","t":13.09,"p":0.2371},{"s":"T4","t":13.14,"p":0.2311},{"s":"T4","t":13.19,"p":0.2338},{"s":"T4","t":13.24,"p":0.2291},{"s":"T4","t":13.3,"p":0.2271},{"s":"T4","t":13.36,"p":0.2231},{"s":"T4","t":13.41,"p":0.2225},{"s":"T4","t":13.47,"p":0.2185},{"s":"T4","t":13.52,"p":0.2198},{"s":"T4","t":13.57,"p":0.2132},{"s":"T4","t":13.62,"p":0.2132},{"s":"T4","t":13.68,"p":0.2098},{"s":"T4","t":13.73,"p":0.2085},{"s":"T4","t":13.78,"p":0.2078},{"s":"T4","t":13.83,"p":0.2052},{"s":"T4","t":13.89,"p":0.2039},{"s":"T4","t":13.94,"p":0.2032},{"s":"T4","t":13.98,"p":0.2005},{"s":"T4","t":14.02,"p":0.2045},{"s":"T4","t":14.04,"p":0.1979},{"s":"T4","t":14.09,"p":0.2052},{"s":"T4","t":14.12,"p":0.2012},{"s":"T4","t":14.16,"p":0.2052},{"s":"T4","t":14.21,"p":0.2085},{"s":"T4","t":14.26,"p":0.2125},{"s":"T4","t":14.32,"p":0.2158},{"s":"T4","t":14.37,"p":0.2198},{"s":"T4","t":14.42,"p":0.2218},{"s":"T4","t":14.46,"p":0.2298},{"s":"T4","t":14.51,"p":0.2251},{"s":"T4","t":14.54,"p":0.2364},{"s":"T4","t":14.6,"p":0.2324},{"s":"T4","t":14.65,"p":0.2418},{"s":"T4","t":14.7,"p":0.2364},{"s":"T4","t":14.75,"p":0.2398},{"s":"T4","t":14.79,"p":0.2351},{"s":"T4","t":14.84,"p":0.2338},{"s":"T4","t":14.89,"p":0.2311},{"s":"T4","t":14.95,"p":0.2271},{"s":"T4","t":14.99,"p":0.2258},
{"s":"T6","t":0.5,"p":0.131},{"s":"T6","t":0.54,"p":0.1335},{"s":"T6","t":0.58,"p":0.131},{"s":"T6","t":0.62,"p":0.1345},{"s":"T6","t":0.71,"p":0.139},{"s":"T6","t":0.79,"p":0.147},{"s":"T6","t":0.85,"p":0.16},{"s":"T6","t":0.92,"p":0.174},{"s":"T6","t":0.96,"p":0.175},{"s":"T6","t":1.02,"p":0.186},{"s":"T6","t":1.06,"p":0.1875},{"s":"T6","t":1.1,"p":0.197},{"s":"T6","t":1.14,"p":0.196},{"s":"T6","t":1.21,"p":0.199},{"s":"T6","t":1.27,"p":0.1975},{"s":"T6","t":1.35,"p":0.194},{"s":"T6","t":1.42,"p":0.189},{"s":"T6","t":1.5,"p":0.181},{"s":"T6","t":1.55,"p":0.177},{"s":"T6","t":1.62,"p":0.167},{"s":"T6","t":1.7,"p":0.153},{"s":"T6","t":1.76,"p":0.147},{"s":"T6","t":1.81,"p":0.142},{"s":"T6","t":1.86,"p":0.135},{"s":"T6","t":1.89,"p":0.131},{"s":"T6","t":1.92,"p":0.1355},{"s":"T6","t":1.95,"p":0.13},{"s":"T6","t":1.99,"p":0.1325},{"s":"T6","t":2.02,"p":0.129},{"s":"T6","t":2.06,"p":0.1305},{"s":"T6","t":2.1,"p":0.1335},{"s":"T6","t":2.16,"p":0.137},{"s":"T6","t":2.22,"p":0.144},{"s":"T6","t":2.26,"p":0.149},{"s":"T6","t":2.32,"p":0.16},{"s":"T6","t":2.39,"p":0.173},{"s":"T6","t":2.43,"p":0.175},{"s":"T6","t":2.47,"p":0.186},{"s":"T6","t":2.52,"p":0.188},{"s":"T6","t":2.57,"p":0.197},{"s":"T6","t":2.62,"p":0.199},{"s":"T6","t":2.68,"p":0.201},{"s":"T6","t":2.73,"p":0.2025},{"s":"T6","t":2.8,"p":0.2005},{"s":"T6","t":2.87,"p":0.199},{"s":"T6","t":2.95,"p":0.191},{"s":"T6","t":3.03,"p":0.183},{"s":"T6","t":3.1,"p":0.175},{"s":"T6","t":3.15,"p":0.168},{"s":"T6","t":3.22,"p":0.156},{"s":"T6","t":3.28,"p":0.146},{"s":"T6","t":3.33,"p":0.14},{"s":"T6","t":3.38,"p":0.134},{"s":"T6","t":3.42,"p":0.1315},{"s":"T6","t":3.45,"p":0.1285},{"s":"T6","t":3.49,"p":0.131},{"s":"T6","t":3.52,"p":0.1285},{"s":"T6","t":3.57,"p":0.132},{"s":"T6","t":3.62,"p":0.134},{"s":"T6","t":3.67,"p":0.14},{"s":"T6","t":3.72,"p":0.146},{"s":"T6","t":3.77,"p":0.1566},{"s":"T6","t":3.81,"p":0.1633},{"s":"T6","t":3.86,"p":0.1739},{"s":"T6","t":3.92,"p":0.1746},{"s":"T6","t":3.95,"p":0.1872},{"s":"T6","t":4.01,"p":0.1899},{"s":"T6","t":4.06,"p":0.1992},{"s":"T6","t":4.11,"p":0.2019},{"s":"T6","t":4.16,"p":0.2052},{"s":"T6","t":4.22,"p":0.2032},{"s":"T6","t":4.3,"p":0.1992},{"s":"T6","t":4.37,"p":0.1939},{"s":"T6","t":4.45,"p":0.1832},{"s":"T6","t":4.52,"p":0.1786},{"s":"T6","t":4.56,"p":0.1686},{"s":"T6","t":4.61,"p":0.1646},{"s":"T6","t":4.66,"p":0.1566},{"s":"T6","t":4.71,"p":0.15},{"s":"T6","t":4.74,"p":0.1447},{"s":"T6","t":4.79,"p":0.138},{"s":"T6","t":4.85,"p":0.1314},{"s":"T6","t":4.9,"p":0.1287},{"s":"T6","t":4.95,"p":0.1314},{"s":"T6","t":5.0,"p":0.1287},{"s":"T6","t":5.06,"p":0.1354},{"s":"T6","t":5.11,"p":0.1367},{"s":"T6","t":5.16,"p":0.1473},{"s":"T6","t":5.21,"p":0.1513},{"s":"T6","t":5.27,"p":0.1606},{"s":"T6","t":5.32,"p":0.1726},{"s":"T6","t":5.37,"p":0.1739},{"s":"T6","t":5.41,"p":0.1859},{"s":"T6","t":5.46,"p":0.1899},{"s":"T6","t":5.51,"p":0.1945},{"s":"T6","t":5.58,"p":0.1985},{"s":"T6","t":5.63,"p":0.2019},{"s":"T6","t":5.69,"p":0.2032},{"s":"T6","t":5.74,"p":0.2025},{"s":"T6","t":5.79,"p":0.2005},{"s":"T6","t":5.84,"p":0.1959},{"s":"T6","t":5.9,"p":0.1912},{"s":"T6","t":5.97,"p":0.1806},{"s":"T6","t":6.03,"p":0.1699},{"s":"T6","t":6.08,"p":0.162},{"s":"T6","t":6.12,"p":0.1566},{"s":"T6","t":6.18,"p":0.1487},{"s":"T6","t":6.23,"p":0.142},{"s":"T6","t":6.29,"p":0.134},{"s":"T6","t":6.34,"p":0.13},{"s":"T6","t":6.4,"p":0.1261},{"s":"T6","t":6.45,"p":0.1314},{"s":"T6","t":6.5,"p":0.1287},{"s":"T6","t":6.55,"p":0.1347},{"s":"T6","t":6.61,"p":0.1407},{"s":"T6","t":6.66,"p":0.146},{"s":"T6","t":6.71,"p":0.15},{"s":"T6","t":6.76,"p":0.1606},{"s":"T6","t":6.82,"p":0.1693},{"s":"T6","t":6.87,"p":0.1713},{"s":"T6","t":6.92,"p":0.1839},{"s":"T6","t":6.97,"p":0.1886},{"s":"T6","t":7.03,"p":0.1939},{"s":"T6","t":7.11,"p":0.1952},{"s":"T6","t":7.16,"p":0.1979},{"s":"T6","t":7.21,"p":0.1985},{"s":"T6","t":7.26,"p":0.1972},{"s":"T6","t":7.32,"p":0.1939},{"s":"T6","t":7.37,"p":0.1899},{"s":"T6","t":7.44,"p":0.1832},{"s":"T6","t":7.49,"p":0.1793},{"s":"T6","t":7.54,"p":0.1686},{"s":"T6","t":7.6,"p":0.1606},{"s":"T6","t":7.65,"p":0.1527},{"s":"T6","t":7.7,"p":0.1434},{"s":"T6","t":7.75,"p":0.1367},{"s":"T6","t":7.8,"p":0.13},{"s":"T6","t":7.86,"p":0.132},{"s":"T6","t":7.91,"p":0.1261},{"s":"T6","t":7.95,"p":0.1287},{"s":"T6","t":8.0,"p":0.1254},{"s":"T6","t":8.06,"p":0.1327},{"s":"T6","t":8.11,"p":0.1347},{"s":"T6","t":8.16,"p":0.1434},{"s":"T6","t":8.21,"p":0.1513},{"s":"T6","t":8.27,"p":0.1633},{"s":"T6","t":8.32,"p":0.1673},{"s":"T6","t":8.37,"p":0.178},{"s":"T6","t":8.42,"p":0.1832},{"s":"T6","t":8.48,"p":0.1912},{"s":"T6","t":8.53,"p":0.1972},{"s":"T6","t":8.59,"p":0.2012},{"s":"T6","t":8.66,"p":0.2005},{"s":"T6","t":8.71,"p":0.2019},{"s":"T6","t":8.76,"p":0.1985},{"s":"T6","t":8.81,"p":0.1952},{"s":"T6","t":8.87,"p":0.1899},{"s":"T6","t":8.92,"p":0.1846},{"s":"T6","t":8.97,"p":0.178},{"s":"T6","t":9.02,"p":0.166},{"s":"T6","t":9.08,"p":0.162},{"s":"T6","t":9.13,"p":0.1553},{"s":"T6","t":9.18,"p":0.15},{"s":"T6","t":9.23,"p":0.1427},{"s":"T6","t":9.29,"p":0.1354},{"s":"T6","t":9.34,"p":0.1307},{"s":"T6","t":9.39,"p":0.1287},{"s":"T6","t":9.44,"p":0.1314},{"s":"T6","t":9.49,"p":0.1261},{"s":"T6","t":9.54,"p":0.1327},{"s":"T6","t":9.59,"p":0.134},{"s":"T6","t":9.64,"p":0.1407},{"s":"T6","t":9.7,"p":0.1473},{"s":"T6","t":9.75,"p":0.158},{"s":"T6","t":9.8,"p":0.1673},{"s":"T6","t":9.85,"p":0.1713},{"s":"T6","t":9.91,"p":0.1819},{"s":"T6","t":9.96,"p":0.1886},{"s":"T6","t":10.01,"p":0.1939},{"s":"T6","t":10.06,"p":0.1979},{"s":"T6","t":10.12,"p":0.1992},{"s":"T6","t":10.17,"p":0.1972},{"s":"T6","t":10.22,"p":0.1939},{"s":"T6","t":10.27,"p":0.1912},{"s":"T6","t":10.33,"p":0.1872},{"s":"T6","t":10.38,"p":0.1806},{"s":"T6","t":10.43,"p":0.1753},{"s":"T6","t":10.48,"p":0.1699},{"s":"T6","t":10.54,"p":0.1633},{"s":"T6","t":10.59,"p":0.1553},{"s":"T6","t":10.64,"p":0.15},{"s":"T6","t":10.69,"p":0.1453},{"s":"T6","t":10.75,"p":0.14},{"s":"T6","t":10.8,"p":0.1367},{"s":"T6","t":10.84,"p":0.14},{"s":"T6","t":10.89,"p":0.1307},{"s":"T6","t":10.95,"p":0.134},{"s":"T6","t":11.0,"p":0.1374},{"s":"T6","t":11.06,"p":0.1387},{"s":"T6","t":11.11,"p":0.1434},{"s":"T6","t":11.16,"p":0.146},{"s":"T6","t":11.21,"p":0.1566},{"s":"T6","t":11.26,"p":0.1633},{"s":"T6","t":11.3,"p":0.1686},{"s":"T6","t":11.35,"p":0.1806},{"s":"T6","t":11.41,"p":0.1872},{"s":"T6","t":11.46,"p":0.1952},{"s":"T6","t":11.51,"p":0.1959},{"s":"T6","t":11.57,"p":0.2005},{"s":"T6","t":11.63,"p":0.2025},{"s":"T6","t":11.68,"p":0.2019},{"s":"T6","t":11.73,"p":0.1992},{"s":"T6","t":11.79,"p":0.1952},{"s":"T6","t":11.84,"p":0.1899},{"s":"T6","t":11.89,"p":0.1846},{"s":"T6","t":11.94,"p":0.1793},{"s":"T6","t":11.99,"p":0.1693},{"s":"T6","t":12.05,"p":0.1646},{"s":"T6","t":12.1,"p":0.158},{"s":"T6","t":12.15,"p":0.1513},{"s":"T6","t":12.21,"p":0.146},{"s":"T6","t":12.26,"p":0.1407},{"s":"T6","t":12.31,"p":0.1354},{"s":"T6","t":12.36,"p":0.1314},{"s":"T6","t":12.42,"p":0.13},{"s":"T6","t":12.47,"p":0.1314},{"s":"T6","t":12.52,"p":0.13},{"s":"T6","t":12.57,"p":0.134},{"s":"T6","t":12.63,"p":0.1394},{"s":"T6","t":12.68,"p":0.146},{"s":"T6","t":12.73,"p":0.1527},{"s":"T6","t":12.78,"p":0.1606},{"s":"T6","t":12.82,"p":0.1686},{"s":"T6","t":12.88,"p":0.1793},{"s":"T6","t":12.93,"p":0.1832},{"s":"T6","t":12.99,"p":0.1965},{"s":"T6","t":13.05,"p":0.2019},{"s":"T6","t":13.11,"p":0.2039},{"s":"T6","t":13.16,"p":0.2058},{"s":"T6","t":13.21,"p":0.2039},{"s":"T6","t":13.27,"p":0.2025},{"s":"T6","t":13.32,"p":0.1992},{"s":"T6","t":13.37,"p":0.1952},{"s":"T6","t":13.42,"p":0.1899},{"s":"T6","t":13.48,"p":0.1866},{"s":"T6","t":13.53,"p":0.1819},{"s":"T6","t":13.58,"p":0.1753},{"s":"T6","t":13.63,"p":0.1686},{"s":"T6","t":13.69,"p":0.162},{"s":"T6","t":13.74,"p":0.1566},{"s":"T6","t":13.79,"p":0.15},{"s":"T6","t":13.84,"p":0.146},{"s":"T6","t":13.9,"p":0.1447},{"s":"T6","t":13.95,"p":0.142},{"s":"T6","t":13.99,"p":0.1367},{"s":"T6","t":14.04,"p":0.134},{"s":"T6","t":14.1,"p":0.1347},{"s":"T6","t":14.15,"p":0.1314},{"s":"T6","t":14.2,"p":0.1354},{"s":"T6","t":14.25,"p":0.1407},{"s":"T6","t":14.31,"p":0.1487},{"s":"T6","t":14.36,"p":0.1553},{"s":"T6","t":14.41,"p":0.1646},{"s":"T6","t":14.46,"p":0.1726},{"s":"T6","t":14.52,"p":0.1872},{"s":"T6","t":14.57,"p":0.1899},{"s":"T6","t":14.62,"p":0.1979},{"s":"T6","t":14.67,"p":0.2005},{"s":"T6","t":14.73,"p":0.2025},{"s":"T6","t":14.78,"p":0.2012},{"s":"T6","t":14.83,"p":0.2019},{"s":"T6","t":14.88,"p":0.1999},{"s":"T6","t":14.94,"p":0.1959},{"s":"T6","t":14.99,"p":0.1932}
]},
"layer": [
{"mark": {"type": "line", "strokeWidth": 1.3},
 "encoding": {
  "x": {"field": "t", "type": "quantitative", "scale": {"domain": [0, 15], "nice": false},
        "axis": {"orient": "bottom", "values": [0, 5, 10, 15], "title": "Tiempo [s]", "titleFontSize": 22, "titleFontWeight": "normal", "titleColor": "#262626", "titlePadding": 13, "labelFontSize": 19.5, "labelColor": "#262626", "labelPadding": 19, "tickSize": -10, "tickWidth": 1, "tickColor": "#262626", "domainColor": "#262626", "grid": false, "labelFlush": false}},
  "y": {"field": "p", "type": "quantitative", "scale": {"domain": [0.1, 0.4], "nice": false, "zero": false},
        "axis": {"orient": "left", "values": [0.1, 0.15, 0.2, 0.25, 0.3, 0.35, 0.4], "format": ".2~f", "title": "Presión [m]", "titleFontSize": 22, "titleFontWeight": "normal", "titleColor": "#262626", "titlePadding": 11, "labelFontSize": 19.5, "labelColor": "#262626", "labelPadding": 20, "tickSize": -10, "tickWidth": 1, "tickColor": "#262626", "domainColor": "#262626", "grid": false, "labelFlush": false}},
  "color": {"field": "s", "type": "nominal", "scale": {"domain": ["T1", "T2", "T4", "T6"], "range": ["#0000ff", "#00ff00", "#ff0000", "#00ffff"]},
        "legend": {"orient": "top-right", "offset": 20, "title": null, "fillColor": "white", "strokeColor": "#262626", "padding": 6, "symbolType": "stroke", "symbolSize": 3969, "symbolStrokeWidth": 1.5, "symbolOffset": 6, "clipHeight": 20, "rowPadding": 7, "labelFontSize": 18, "labelColor": "black", "labelOffset": 12}}
 }},
{"mark": {"type": "point", "opacity": 0},
 "encoding": {
  "x": {"field": "t", "type": "quantitative", "axis": {"orient": "top", "values": [0, 5, 10, 15], "labels": false, "title": null, "tickSize": -10, "tickWidth": 1, "tickColor": "#262626", "domainColor": "#262626", "grid": false}},
  "y": {"field": "p", "type": "quantitative", "axis": {"orient": "right", "values": [0.1, 0.15, 0.2, 0.25, 0.3, 0.35, 0.4], "labels": false, "title": null, "tickSize": -10, "tickWidth": 1, "tickColor": "#262626", "domainColor": "#262626", "grid": false}}
 }}
],
"resolve": {"axis": {"x": "independent", "y": "independent"}}
}
